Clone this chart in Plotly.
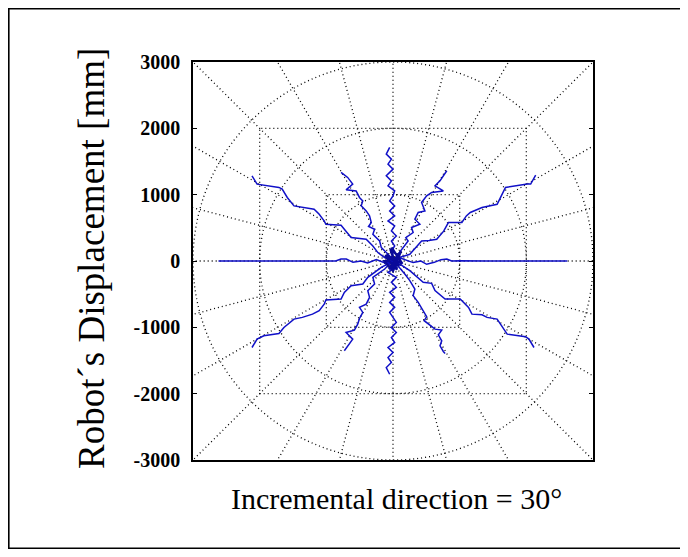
import numpy as np
import plotly.graph_objects as go

# ---------------- data (in mm) ----------------
p000_x = [0, 120, 302, 420, 505, 620, 720, 807, 880, 1000, 1400, 2000, 2614]
p000_y = [0, 40, -24, 0, -50, -20, 20, 30, 0, 5, 0, 0, 0]

p030_x = [0, 120, 252, 429, 540, 656, 760, 831, 1033, 1100, 1159, 1335, 1562, 1610, 1687, 2015, 2065, 2140]
p030_y = [0, 60, 101, 302, 310, 328, 450, 580, 580, 680, 731, 807, 856, 960, 1109, 1159, 1159, 1295]

p060_x = [0, 101, 177, 227, 192, 302, 278, 403, 328, 378, 479, 429, 505, 580, 755, 630, 705, 807]
p060_y = [0, 127, 227, 302, 353, 429, 505, 554, 630, 731, 755, 882, 982, 1033, 1057, 1133, 1208, 1360]

p090_x = [0, 0, -24, 25, -24, 50, -24, 25, -75, 25, -50, 25, -50, 0, 25, -75, -24, -101, 0, -75, -24, -101, -50]
p090_y = [0, 76, 151, 227, 302, 378, 453, 529, 604, 680, 755, 831, 906, 982, 1057, 1133, 1208, 1284, 1385, 1461, 1536, 1612, 1713]

p120_x = [0, -24, -100, -175, -201, -302, -276, -367, -326, -352, -402, -477, -453, -503, -553, -704, -604, -680, -779]
p120_y = [0, 51, 127, 202, 302, 403, 479, 520, 580, 680, 755, 831, 906, 958, 1057, 1073, 1159, 1260, 1335]

p150_x = [0, -125, -227, -302, -402, -628, -730, -779, -1006, -1033, -1107, -1183, -1485, -1586, -1662, -1711, -2039, -2115]
p150_y = [0, 51, 127, 227, 328, 353, 479, 539, 554, 604, 705, 781, 831, 958, 1083, 1109, 1159, 1284]

p180_x = [0, -120, -250, -380, -480, -600, -700, -780, -860, -1000, -1400, -2000, -2618]
p180_y = [0, -30, 20, -30, 0, -20, 30, 30, 0, 0, 0, 0, 0]

p210_x = [0, -175, -276, -378, -453, -628, -730, -779, -1006, -1032, -1107, -1208, -1360, -1485, -1636, -1711, -1938, -2039, -2115]
p210_y = [0, -95, -171, -246, -347, -372, -473, -574, -589, -650, -749, -801, -850, -876, -1002, -1092, -1127, -1178, -1304]

p240_x = [0, -24, -125, -227, -302, -276, -378, -352, -402, -503, -453, -503, -529, -579, -704, -604, -730]
p240_y = [0, -20, -121, -196, -246, -347, -447, -548, -650, -699, -775, -866, -952, -1042, -1077, -1178, -1353]

p270_x = [0, 25, -75, 50, -24, 50, -50, 25, -50, 25, -50, 0, 50, -24, 50, -24, 25, -75, 0, -75, -24, -101, -50]
p270_y = [0, -95, -171, -246, -322, -397, -473, -548, -624, -699, -775, -850, -926, -1002, -1077, -1153, -1228, -1304, -1379, -1455, -1530, -1606, -1707]

p300_x = [0, 51, 177, 252, 328, 302, 378, 453, 505, 468, 554, 630, 731, 680, 731, 705, 755, 781]
p300_y = [0, -45, -196, -296, -423, -523, -624, -749, -840, -900, -967, -1027, -1042, -1112, -1203, -1278, -1364, -1394]

p330_x = [0, 120, 252, 453, 580, 630, 781, 1008, 1133, 1184, 1335, 1411, 1562, 1662, 1713, 1989, 2039, 2115]
p330_y = [0, -60, -145, -322, -337, -447, -574, -574, -699, -801, -810, -850, -876, -1027, -1103, -1142, -1178, -1304]

knot_x = [-100, 80, -60, 120, 0, -130, 100, -40, 60, -120, 140, -20, 0]
knot_y = [100, -60, -120, 150, -150, 0, 60, 180, -130, 80, -40, 200, 0]

y_tickvals = [-3000, -2000, -1000, 0, 1000, 2000, 3000]
y_ticktext = ["-3000", "-2000", "-1000", "0", "1000", "2000", "3000"]

grid_radii = [1000, 2000, 3000]
grid_squares = [1000, 2000]
spoke_step_deg = 15

x_label = "Incremental direction = 30\u00b0"
y_label = "Robot\u00b4s Displacement [mm]"

# ---------------- figure ----------------
paths = [(p000_x, p000_y), (p030_x, p030_y), (p060_x, p060_y), (p090_x, p090_y),
         (p120_x, p120_y), (p150_x, p150_y), (p180_x, p180_y), (p210_x, p210_y),
         (p240_x, p240_y), (p270_x, p270_y), (p300_x, p300_y), (p330_x, p330_y)]

BLUE = "#1010c8"
fig = go.Figure()
for px, py in paths:
    fig.add_trace(go.Scatter(x=px, y=py, mode="lines",
                             line=dict(color=BLUE, width=1.5), showlegend=False,
                             hoverinfo="skip"))
fig.add_trace(go.Scatter(x=knot_x, y=knot_y, mode="lines",
                         line=dict(color="#0a0a9a", width=2.4), showlegend=False,
                         hoverinfo="skip"))

dot = dict(color="black", width=1.3, dash="1px,3px")
shapes = []
for r in grid_radii:
    shapes.append(dict(type="circle", xref="x", yref="y", x0=-r, x1=r, y0=-r, y1=r,
                       line=dot, layer="below"))
for s in grid_squares:
    shapes.append(dict(type="rect", xref="x", yref="y", x0=-s, x1=s, y0=-s, y1=s,
                       line=dot, layer="below"))
R = 5000
for a in range(0, 180, spoke_step_deg):
    t = np.deg2rad(a)
    shapes.append(dict(type="line", xref="x", yref="y",
                       x0=-R * np.cos(t), y0=-R * np.sin(t),
                       x1=R * np.cos(t), y1=R * np.sin(t),
                       line=dot, layer="below"))

# page has an 8px body margin: lay the figure out in window pixels minus 8
OFF = 8
W, H = 688 - OFF, 557 - 2 * OFF
ml, mt = 193 - OFF, 62 - OFF
pw, ph = 400, 398
mr, mb = W - ml - pw, H - mt - ph


def px2paper_x(p):
    return (p - OFF - ml) / pw


def px2paper_y(p):
    return (mt + ph - (p - OFF)) / ph


# outer figure frame
shapes.append(dict(type="rect", xref="paper", yref="paper",
                   x0=px2paper_x(8.8), x1=px2paper_x(686),
                   y0=px2paper_y(548.2), y1=px2paper_y(8.8),
                   line=dict(color="black", width=1.6), layer="below"))

serif = "Liberation Serif, Times New Roman, serif"
fig.update_layout(
    width=W, height=H,
    margin=dict(l=ml, r=mr, t=mt, b=mb, pad=0),
    paper_bgcolor="white", plot_bgcolor="white",
    shapes=shapes,
    showlegend=False,
    xaxis=dict(range=[-3000, 3000], showgrid=False, zeroline=False,
               showticklabels=False, ticks="", showline=True, mirror=True,
               linecolor="black", linewidth=1.5, fixedrange=True),
    yaxis=dict(range=[-3000, 3000], showgrid=False, zeroline=False,
               tickvals=y_tickvals, ticktext=y_ticktext,
               ticks="inside", ticklen=4, tickcolor="black", tickwidth=1.2,
               showline=True, mirror="ticks", linecolor="black", linewidth=1.5,
               ticklabelstandoff=7,
               tickfont=dict(family=serif, size=20, color="black", weight="bold"),
               fixedrange=True),
    annotations=[
        dict(text=y_label, xref="paper", yref="paper",
             x=px2paper_x(91), y=px2paper_y(259), textangle=-90,
             showarrow=False, xanchor="center", yanchor="middle",
             font=dict(family=serif, size=37, color="black")),
        dict(text=x_label, xref="paper", yref="paper",
             x=px2paper_x(396), y=px2paper_y(498),
             showarrow=False, xanchor="center", yanchor="middle",
             font=dict(family=serif, size=30, color="black")),
    ],
)
fig.write_html("out.html")
